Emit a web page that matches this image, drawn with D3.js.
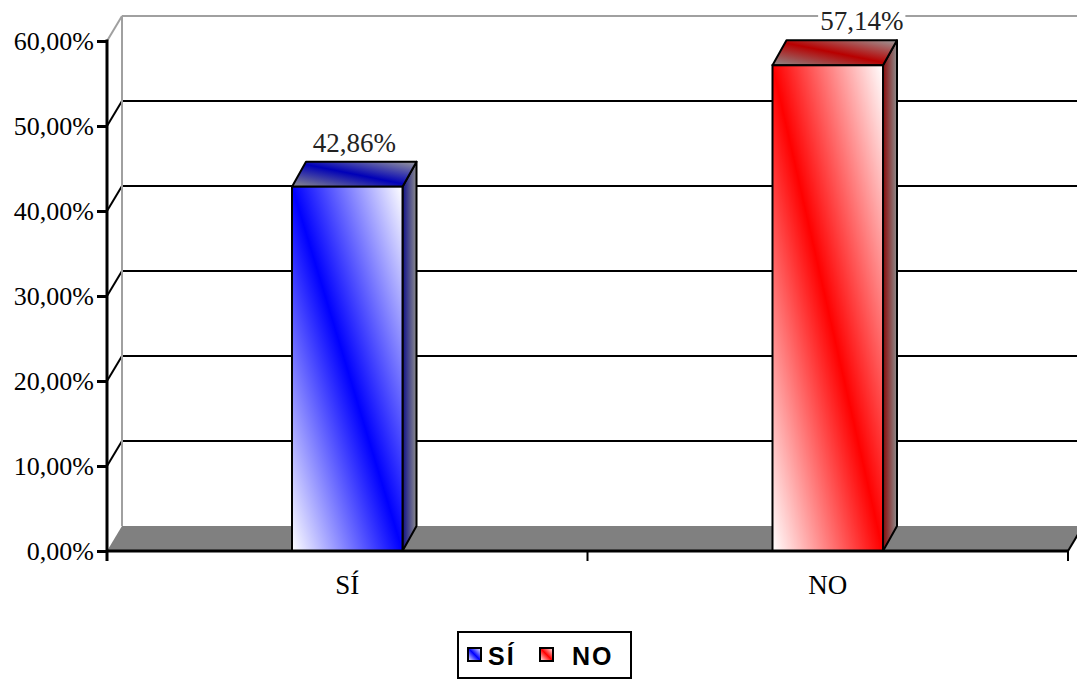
<!DOCTYPE html>
<html>
<head>
<meta charset="utf-8">
<script src="https://cdn.jsdelivr.net/npm/d3@7/dist/d3.min.js"></script>
<style>
  html, body { margin: 0; padding: 0; background: #fff; }
  svg { display: block; }
</style>
</head>
<body>
<svg id="chart" width="1077" height="681"></svg>
<script>
// Survey answers: share of respondents per answer
const categories = ["SÍ", "NO"];
const values = [0.4286, 0.5714];
const barColors = ["#0000ff", "#ff0000"];
const sideColors = ["#10108a", "#8a0a0a"];
const topColors = ["#0000b8", "#b80000"];
const tickValues = [0, 0.1, 0.2, 0.3, 0.4, 0.5, 0.6];
const tickLabels = ["0,00%", "10,00%", "20,00%", "30,00%", "40,00%", "50,00%", "60,00%"];

const svg = d3.select("#chart");
const W = 1077, H = 681;

// plot frame (front plane) and 3-D depth offsets
const plotL = 107, plotR = 1068, plotB = 551, plotT = 41;
const wallDx = 15, wallDy = -25;   // back wall offset
const barDx = 14, barDy = -25;     // bar depth offset

const y = d3.scaleLinear().domain([0, 0.6]).range([plotB, plotT]);
const x = d3.scaleBand().domain(categories).range([plotL, plotR]);
const barW = x.bandwidth() * 0.23;

const locale = d3.formatLocale({ decimal: ",", thousands: ".", grouping: [3], currency: ["", "€"] });
const pct = locale.format(".2%");

const serif = "'Liberation Serif', 'Times New Roman', serif";
const sans = "'Liberation Sans', Arial, sans-serif";

const defs = svg.append("defs");

// gradients for each bar: front, side, top
categories.forEach((c, i) => {
  const front = defs.append("linearGradient").attr("id", "front" + i)
    .attr("x1", 0).attr("y1", 1).attr("x2", 1).attr("y2", 0);
  front.append("stop").attr("offset", 0).attr("stop-color", "#ffffff");
  front.append("stop").attr("offset", 0.5).attr("stop-color", barColors[i]);
  front.append("stop").attr("offset", 1).attr("stop-color", "#ffffff");

  const side = defs.append("linearGradient").attr("id", "side" + i)
    .attr("x1", 0).attr("y1", 0).attr("x2", 1).attr("y2", 0);
  side.append("stop").attr("offset", 0).attr("stop-color", sideColors[i]);
  side.append("stop").attr("offset", 1).attr("stop-color", "#8c8c8c");

  const topG = defs.append("linearGradient").attr("id", "top" + i)
    .attr("x1", 0).attr("y1", 1).attr("x2", 1).attr("y2", 0);
  topG.append("stop").attr("offset", 0).attr("stop-color", "#8c8c8c");
  topG.append("stop").attr("offset", 0.5).attr("stop-color", topColors[i]);
  topG.append("stop").attr("offset", 1).attr("stop-color", "#9a9a9a");
});

// floor
const floorY = y(0);
svg.append("path")
  .attr("d", `M${plotL},${floorY} L${plotR},${floorY} L${plotR + wallDx},${floorY + wallDy} L${plotL + wallDx},${floorY + wallDy} Z`)
  .attr("fill", "#808080");

// back wall gridlines
const grid = svg.append("g");
tickValues.slice(1).forEach(v => {
  const isTop = v === tickValues[tickValues.length - 1];
  const col = isTop ? "#a0a0a0" : "#000";
  grid.append("line")
    .attr("x1", plotL + wallDx).attr("x2", W + 20)
    .attr("y1", y(v) + wallDy).attr("y2", y(v) + wallDy)
    .attr("stroke", col).attr("stroke-width", 2);
  grid.append("line")
    .attr("x1", plotL).attr("y1", y(v))
    .attr("x2", plotL + wallDx).attr("y2", y(v) + wallDy)
    .attr("stroke", col).attr("stroke-width", 2);
});
// back wall left edge
grid.append("line")
  .attr("x1", plotL + wallDx).attr("x2", plotL + wallDx)
  .attr("y1", y(0.6) + wallDy).attr("y2", floorY + wallDy)
  .attr("stroke", "#a0a0a0").attr("stroke-width", 2);

// floor right diagonal edge
svg.append("line")
  .attr("x1", plotR).attr("y1", floorY)
  .attr("x2", plotR + wallDx).attr("y2", floorY + wallDy)
  .attr("stroke", "#000").attr("stroke-width", 2);

// bars
const bars = svg.append("g").selectAll("g").data(categories).join("g");
bars.each(function (c, i) {
  const g = d3.select(this);
  const cx = x(c) + x.bandwidth() / 2;
  const x0 = cx - barW / 2, x1 = cx + barW / 2;
  const yt = y(values[i]), yb = y(0);
  // side face
  g.append("path")
    .attr("d", `M${x1},${yb} L${x1 + barDx},${yb + barDy} L${x1 + barDx},${yt + barDy} L${x1},${yt} Z`)
    .attr("fill", `url(#side${i})`).attr("stroke", "#000").attr("stroke-width", 2).attr("stroke-linejoin", "round");
  // top face
  g.append("path")
    .attr("d", `M${x0},${yt} L${x1},${yt} L${x1 + barDx},${yt + barDy} L${x0 + barDx},${yt + barDy} Z`)
    .attr("fill", `url(#top${i})`).attr("stroke", "#000").attr("stroke-width", 2).attr("stroke-linejoin", "round");
  // front face
  g.append("rect")
    .attr("x", x0).attr("y", yt).attr("width", barW).attr("height", yb - yt)
    .attr("fill", `url(#front${i})`).attr("stroke", "#000").attr("stroke-width", 2);
});

// value labels above the bars
const labelShift = [0, 27];
const labels = svg.append("g");
categories.forEach((c, i) => {
  const cx = x(c) + x.bandwidth() / 2 + barDx / 2 + labelShift[i];
  const ly = y(values[i]) + barDy - 10;
  const lg = labels.append("g");
  const bg = lg.append("rect").attr("fill", "#fff");
  const t = lg.append("text")
    .attr("x", cx).attr("y", ly)
    .attr("text-anchor", "middle")
    .attr("font-family", serif).attr("font-size", 27).attr("fill", "#222")
    .text(pct(values[i]));
  const bb = t.node().getBBox();
  bg.attr("x", bb.x - 2).attr("y", bb.y + 3).attr("width", bb.width + 4).attr("height", bb.height - 3);
});

// y axis
const yAxis = d3.axisLeft(y)
  .tickValues(tickValues)
  .tickFormat((d, i) => tickLabels[i])
  .tickSize(10).tickSizeOuter(0).tickPadding(3);
const ya = svg.append("g").attr("transform", `translate(${plotL},0)`).call(yAxis);
ya.select(".domain").remove();
ya.selectAll(".tick line").attr("stroke", "#000").attr("stroke-width", 3);
ya.selectAll(".tick text")
  .attr("font-family", serif).attr("font-size", 26).attr("fill", "#000");
svg.append("line")
  .attr("x1", plotL).attr("x2", plotL)
  .attr("y1", plotT - 1.5).attr("y2", plotB + 10)
  .attr("stroke", "#000").attr("stroke-width", 3);

// x axis: baseline, boundary ticks, category labels
svg.append("line")
  .attr("x1", plotL).attr("x2", plotR)
  .attr("y1", plotB).attr("y2", plotB)
  .attr("stroke", "#000").attr("stroke-width", 3);
const bounds = categories.map(c => x(c)).concat([x(categories[categories.length - 1]) + x.bandwidth()]);
svg.append("g").selectAll("line").data(bounds.slice(1)).join("line")
  .attr("x1", d => d).attr("x2", d => d)
  .attr("y1", plotB).attr("y2", plotB + 10)
  .attr("stroke", "#000").attr("stroke-width", 2);
const xAxis = d3.axisBottom(x).tickSize(0).tickPadding(0);
const xa = svg.append("g").attr("transform", `translate(0,${plotB})`).call(xAxis);
xa.select(".domain").remove();
xa.selectAll(".tick text")
  .attr("dy", 0).attr("y", 43)
  .attr("font-family", serif).attr("font-size", 27).attr("fill", "#000");

// legend
const legend = svg.append("g");
legend.append("rect")
  .attr("x", 458).attr("y", 632).attr("width", 173).attr("height", 46)
  .attr("fill", "#fff").attr("stroke", "#000").attr("stroke-width", 2);
const swatchX = [468, 540];
const legendTextX = [488, 572];
categories.forEach((c, i) => {
  legend.append("rect")
    .attr("x", swatchX[i]).attr("y", 648).attr("width", 13).attr("height", 13)
    .attr("fill", `url(#front${i})`).attr("stroke", "#000").attr("stroke-width", 2);
  legend.append("text")
    .attr("x", legendTextX[i]).attr("y", 665)
    .attr("font-family", sans).attr("font-weight", "bold").attr("font-size", 25)
    .attr("letter-spacing", 2).attr("fill", "#000")
    .text(c);
});
</script>
</body>
</html>
